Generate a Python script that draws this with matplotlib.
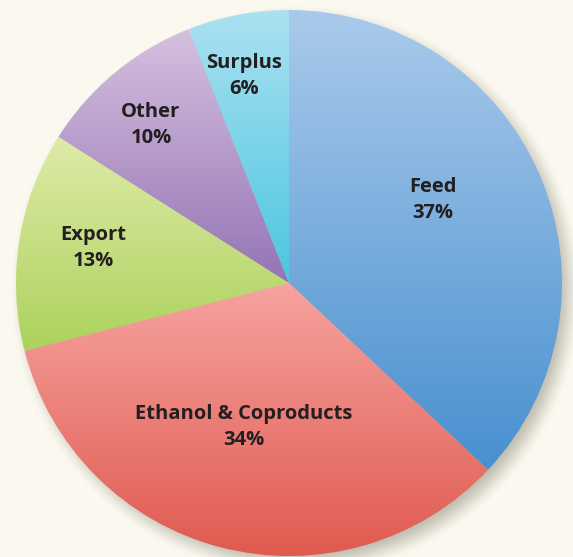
import numpy as np
import matplotlib
matplotlib.use("Agg")
from matplotlib import pyplot as plt
from matplotlib.colors import to_rgb

# slices, clockwise from the top
labels = ["Feed", "Ethanol & Coproducts", "Export", "Other", "Surplus"]
shares = [37, 34, 13, 10, 6]
# (top colour, bottom colour) of each slice gradient
tops = ["#aacaeb", "#f6a3a0", "#dfeaa8", "#d6c0de", "#abe1f1"]
bottoms = ["#4890d0", "#e05a4f", "#acd25c", "#9474b6", "#4cc6e0"]

# label anchor points (pixels, from top-left)
label_xy = [(433, 200), (244, 427), (93, 248), (151, 125), (244, 76)]

W, H = 573, 557
bg = "#fbf9ef"
cx, cy, R = 289, H - 283, 273

fig = plt.figure(figsize=(W / 100, H / 100), dpi=100, facecolor=bg)
ax = fig.add_axes([0, 0, 1, 1])
ax.set_facecolor(bg)

# soft drop shadow towards the bottom right
yy, xx = np.mgrid[0:H, 0:W] + 0.5
d = np.hypot(xx - (cx + 7), (H - yy) - (cy - 8))
a = np.clip((R + 14 - d) / 28, 0, 1)
a = a * a * (3 - 2 * a) * 0.55
shadow = np.zeros((H, W, 4))
shadow[..., :3] = np.array([140, 136, 122]) / 255
shadow[..., 3] = a
ax.imshow(shadow, extent=(0, W, 0, H), origin="upper", zorder=0, interpolation="bilinear")

wedges, _ = ax.pie(shares, startangle=90, counterclock=False, center=(cx, cy), radius=R,
                   wedgeprops=dict(linewidth=0))

for w, c0, c1 in zip(wedges, tops, bottoms):
    ext = w.get_path().get_extents()
    t = np.linspace(0, 1, 256)[:, None]
    grad = (1 - t) * np.array(to_rgb(c0)) + t * np.array(to_rgb(c1))
    grad = grad[:, None, :]
    w.set_facecolor("none")
    im = ax.imshow(grad, extent=(ext.x0, ext.x1, ext.y0, ext.y1), origin="upper",
                   aspect="auto", zorder=2, interpolation="bilinear")
    im.set_clip_path(w)

for name, pct, (x, y) in zip(labels, shares, label_xy):
    ax.text(x, H - y, f"{name}\n{pct}%", ha="center", va="center", fontsize=14.5,
            fontweight="bold", family=["Open Sans", "DejaVu Sans"], color="#231f20",
            linespacing=1.45, zorder=5)

ax.set_xlim(0, W)
ax.set_ylim(0, H)
ax.set_aspect("auto")
ax.axis("off")
fig.savefig("out.png", dpi=100, facecolor=bg)
